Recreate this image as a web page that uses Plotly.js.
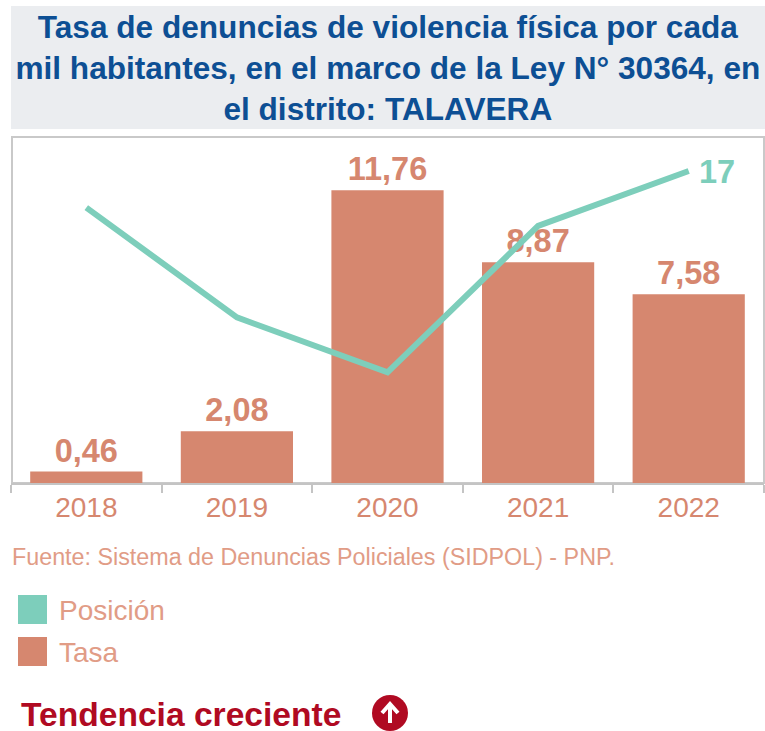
<!DOCTYPE html>
<html><head><meta charset="utf-8">
<script src="https://cdn.plot.ly/plotly-3.0.1.min.js"></script>
<style>html,body{margin:0;padding:0;background:#fff}#c{width:765px;height:731px}</style>
</head><body><div id="c"></div>
<script>
const years = ['2018','2019','2020','2021','2022'];
const tasa = [0.46,2.08,11.76,8.87,7.58];
const tasaLabels = ['0,46','2,08','11,76','8,87','7,58'];
const posicion = [15,9,6,14,17];
const titleText = 'Tasa de denuncias de violencia física por cada<br>mil habitantes, en el marco de la Ley N° 30364, en<br>el distrito: TALAVERA';
const sourceText = 'Fuente: Sistema de Denuncias Policiales (SIDPOL) - PNP.';
const salmon = '#d6876f', teal = '#7dcebb', textSalmon = '#e19c86', red = '#b00a22', F = '"Liberation Sans", Arial, sans-serif';
const W = 765, H = 731, L = 11, PW = 753;
const fx = v => (v - L) / PW, py = v => 1 - (v - 137) / 346;
function box(x0, y0, x1, y1, fill, line) {
  return {type:'rect', xref:'paper', yref:'paper', x0:fx(x0), x1:fx(x1), y0:py(y0), y1:py(y1),
          fillcolor:fill, line:line ? {color:line, width:2} : {width:0}, layer:'below'};
}
function note(x, y, text, size, color, bold) {
  return {xref:'paper', yref:'paper', x:fx(x), y:py(y), text: bold ? '<b>'+text+'</b>' : text,
          showarrow:false, xanchor:'left', yanchor:'middle', xshift:-2, font:{family:F, size:size, color:color}};
}
const cx = 390, cy = 713;
const arrow = 'M ' + fx(cx) + ' ' + py(cy+10) + ' L ' + fx(cx) + ' ' + py(cy-8) +
  ' M ' + fx(cx-8) + ' ' + py(cy) + ' L ' + fx(cx) + ' ' + py(cy-9) + ' L ' + fx(cx+8) + ' ' + py(cy);
const traces = [
  {type:'bar', name:'Tasa', x:years, y:tasa, width:0.745, marker:{color:salmon},
   text:tasaLabels, textposition:'outside', cliponaxis:false, constraintext:'none',
   textfont:{family:F, size:32.5, color:salmon, weight:700}, hoverinfo:'skip'},
  {type:'scatter', mode:'lines', name:'Posición', x:years, y:posicion, yaxis:'y2',
   line:{color:teal, width:6}, cliponaxis:false, hoverinfo:'skip'}
];
const layout = {
  width:W, height:H, showlegend:false, bargap:0.255,
  paper_bgcolor:'#fff', plot_bgcolor:'#fff',
  margin:{l:L, r:W-L-PW, t:137, b:248, pad:0},
  title:{text:'<b>'+titleText+'</b>', x:0.507, xanchor:'center', xref:'container', y:0.948, yanchor:'top',
         font:{family:F, size:31.6, color:'#0d4f94'}},
  xaxis:{type:'category', categoryorder:'array', categoryarray:years, range:[-0.5,4.5],
         tickson:'boundaries', ticks:'outside', ticklen:8, tickwidth:2, tickcolor:'#c4c4c4',
         showline:true, linecolor:'#c4c4c4', linewidth:2, showgrid:false, zeroline:false,
         tickfont:{family:F, size:28, color:salmon}, tickangle:0, ticklabelstandoff:-2},
  yaxis:{range:[0,13.9], visible:false, fixedrange:true},
  yaxis2:{range:[-0.05,18.86], overlaying:'y', visible:false, fixedrange:true},
  shapes:[
    box(11,6,765,129,'#ebedf0',null),
    box(12,137,764,483,'rgba(0,0,0,0)','#c9c9c9'),
    box(18,595,47,624,teal,null),
    box(18,637,47,666,salmon,null),
    {type:'circle', xref:'paper', yref:'paper', x0:fx(cx-18), x1:fx(cx+18), y0:py(cy+18), y1:py(cy-18), fillcolor:red, line:{width:0}},
    {type:'path', xref:'paper', yref:'paper', path:arrow, line:{color:'#fff', width:4}}
  ],
  annotations:[
    {xref:'x', yref:'y2', x:years.length-1, y:posicion[4], text:'<b>'+posicion[4]+'</b>', showarrow:false, xanchor:'left', yanchor:'middle',
     xshift:8, yshift:-1, font:{family:F, size:32.5, color:teal}},
    note(12,557,sourceText,23.3,textSalmon,false),
    note(59,610,'Posición',28,textSalmon,false),
    note(59,652,'Tasa',28,textSalmon,false),
    note(21,714,'Tendencia creciente',33.6,red,true)
  ]
};
Plotly.newPlot('c', traces, layout, {displayModeBar:false, staticPlot:true});
</script></body></html>
